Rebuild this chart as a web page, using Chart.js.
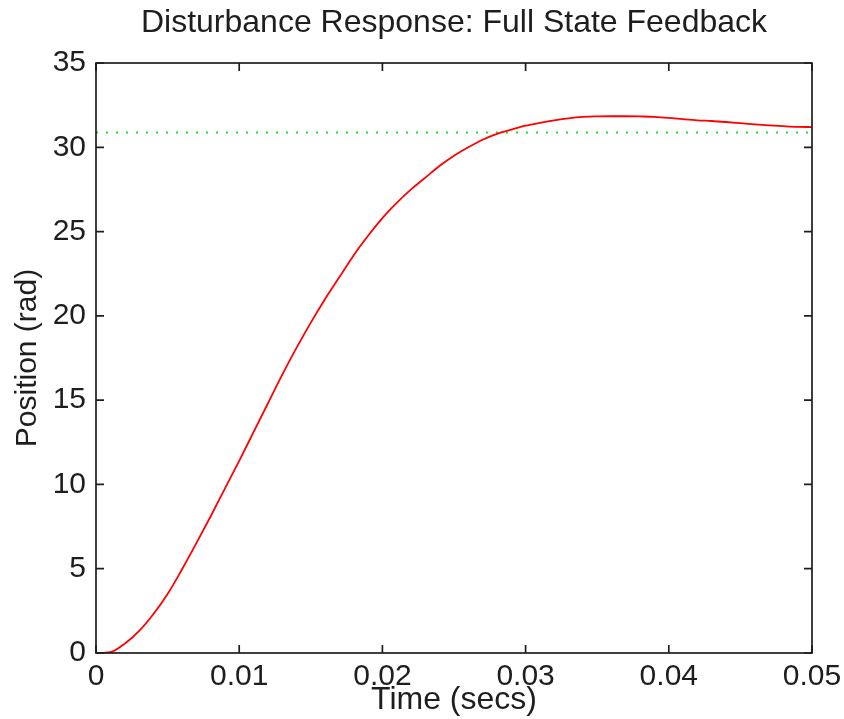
<!DOCTYPE html>
<html>
<head>
<meta charset="utf-8">
<title>Disturbance Response: Full State Feedback</title>
<script src="https://cdn.jsdelivr.net/npm/chart.js@4/dist/chart.umd.min.js"></script>
<style>
  html, body { margin: 0; padding: 0; background: #fff; }
  #wrap { width: 844px; height: 719px; }
</style>
</head>
<body>
<div id="wrap"><canvas id="resp" width="844" height="719"></canvas></div>
<script>
// Disturbance response of the full state feedback loop.
var TIME_S = [
  0, 0.001, 0.002, 0.003, 0.004, 0.005, 0.006, 0.007, 0.008, 0.009,
  0.010, 0.011, 0.012, 0.013, 0.014, 0.015, 0.016, 0.017, 0.018, 0.019,
  0.020, 0.021, 0.022, 0.023, 0.024, 0.025, 0.026, 0.027, 0.028, 0.029,
  0.030, 0.031, 0.032, 0.033, 0.034, 0.035, 0.036, 0.037, 0.038, 0.039,
  0.040, 0.041, 0.042, 0.043, 0.044, 0.045, 0.046, 0.047, 0.048, 0.049,
  0.050
];
var POSITION_RAD = [
  0, 0.05, 0.55, 1.3, 2.3, 3.5, 4.95, 6.5, 8.1, 9.75,
  11.4, 13.1, 14.8, 16.5, 18.1, 19.6, 21.0, 22.3, 23.6, 24.75,
  25.8, 26.7, 27.5, 28.2, 28.9, 29.5, 30.0, 30.45, 30.8, 31.05,
  31.28, 31.45, 31.6, 31.72, 31.8, 31.83, 31.84, 31.84, 31.83, 31.81,
  31.75, 31.67, 31.6, 31.56, 31.5, 31.43, 31.36, 31.3, 31.25, 31.21,
  31.2
];
// steady-state level (green dotted)
var REF_LEVEL = 30.88;

var X_TICKS = [0, 0.01, 0.02, 0.03, 0.04, 0.05];
var X_TICK_LABELS = ['0', '0.01', '0.02', '0.03', '0.04', '0.05'];
var Y_TICKS = [0, 5, 10, 15, 20, 25, 30, 35];

var FONT = '"Liberation Sans", Arial, Helvetica, sans-serif';
var INK = '#1e1e1e';
var TICK = 8;

// matlab style box with inward ticks on all four sides
var matlabAxes = {
  id: 'matlabAxes',
  afterDatasetsDraw: function(chart) {
    var ctx = chart.ctx, a = chart.chartArea;
    var xs = chart.scales.x, ys = chart.scales.y;
    ctx.save();
    ctx.strokeStyle = INK;
    ctx.lineWidth = 1.7;
    ctx.strokeRect(a.left, a.top, a.right - a.left, a.bottom - a.top);
    ctx.beginPath();
    xs.ticks.forEach(function(t) {
      var px = xs.getPixelForValue(t.value);
      ctx.moveTo(px, a.bottom); ctx.lineTo(px, a.bottom - TICK);
      ctx.moveTo(px, a.top);    ctx.lineTo(px, a.top + TICK);
    });
    ys.ticks.forEach(function(t) {
      var py = ys.getPixelForValue(t.value);
      ctx.moveTo(a.left, py);  ctx.lineTo(a.left + TICK, py);
      ctx.moveTo(a.right, py); ctx.lineTo(a.right - TICK, py);
    });
    ctx.stroke();
    ctx.restore();
  }
};

var curve = TIME_S.map(function(t, i) { return { x: t, y: POSITION_RAD[i] }; });
var level = [{ x: X_TICKS[0], y: REF_LEVEL }, { x: X_TICKS[X_TICKS.length - 1], y: REF_LEVEL }];

new Chart(document.getElementById('resp'), {
  type: 'line',
  data: {
    datasets: [
      {
        data: curve,
        borderColor: '#ff0000',
        borderWidth: 1.8,
        pointRadius: 0,
        cubicInterpolationMode: 'monotone',
        fill: false
      },
      {
        data: level,
        borderColor: '#22e022',
        borderWidth: 2,
        borderDash: [2, 8],
        pointRadius: 0,
        fill: false
      }
    ]
  },
  options: {
    responsive: false,
    animation: false,
    devicePixelRatio: 1,
    layout: { padding: { left: 0, right: 32, top: 0, bottom: 0 } },
    plugins: {
      legend: { display: false },
      tooltip: { enabled: false },
      title: {
        display: true,
        fullSize: false,
        text: 'Disturbance Response: Full State Feedback',
        color: INK,
        font: { family: FONT, size: 32, weight: 'normal' },
        padding: { top: 4, bottom: 20.6 }
      }
    },
    scales: {
      x: {
        type: 'linear',
        min: 0,
        max: 0.05,
        grid: { display: false, drawTicks: false },
        border: { display: false },
        afterBuildTicks: function(s) { s.ticks = X_TICKS.map(function(v) { return { value: v }; }); },
        afterFit: function(s) { s.height = 66; s.paddingLeft = 0; s.paddingRight = 0; },
        ticks: {
          autoSkip: false,
          maxRotation: 0,
          padding: 6,
          color: INK,
          font: { family: FONT, size: 30 },
          callback: function(v) { return X_TICK_LABELS[X_TICKS.indexOf(v)]; }
        },
        title: {
          display: true,
          text: 'Time (secs)',
          color: INK,
          font: { family: FONT, size: 32 },
          padding: { top: 0, bottom: 0 }
        }
      },
      y: {
        min: 0,
        max: 35,
        grid: { display: false, drawTicks: false },
        border: { display: false },
        afterBuildTicks: function(s) { s.ticks = Y_TICKS.map(function(v) { return { value: v }; }); },
        afterFit: function(s) { s.width = 96; },
        ticks: {
          padding: 10,
          color: INK,
          font: { family: FONT, size: 30 }
        },
        title: {
          display: true,
          text: 'Position (rad)',
          color: INK,
          font: { family: FONT, size: 30 },
          padding: { top: 10, bottom: 0 }
        }
      }
    }
  },
  plugins: [matlabAxes]
});
</script>
</body>
</html>
